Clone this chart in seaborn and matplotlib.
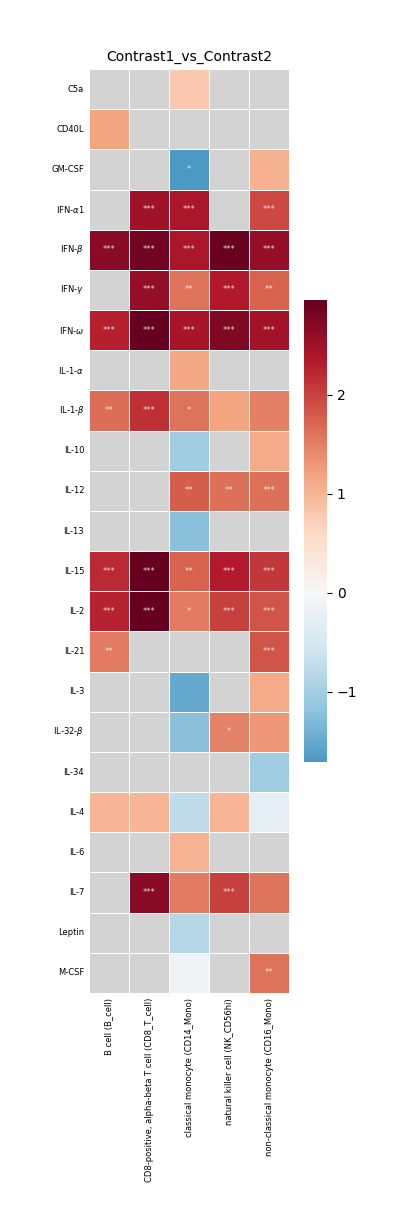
import numpy as np
import pandas as pd
import matplotlib
matplotlib.use("Agg")
import matplotlib.pyplot as plt
import seaborn as sns

cell_types = [
    "B cell (B_cell)",
    "CD8-positive, alpha-beta T cell (CD8_T_cell)",
    "classical monocyte (CD14_Mono)",
    "natural killer cell (NK_CD56hi)",
    "non-classical monocyte (CD16_Mono)",
]
cytokines = [
    "C5a", "CD40L", "GM-CSF", r"IFN-$\alpha$1", r"IFN-$\beta$", r"IFN-$\gamma$",
    r"IFN-$\omega$", r"IL-1-$\alpha$", r"IL-1-$\beta$", "IL-10", "IL-12", "IL-13",
    "IL-15", "IL-2", "IL-21", "IL-3", r"IL-32-$\beta$", "IL-34", "IL-4", "IL-6",
    "IL-7", "Leptin", "M-CSF",
]

nan = np.nan
# log fold changes, one list per cell type (NaN = not tested)
lfc_b_cell = [nan, 1.18, nan, nan, 2.65, nan, 2.30, nan, 1.65, nan, nan, nan,
              2.20, 2.28, 1.52, nan, nan, nan, 1.00, nan, nan, nan, nan]
lfc_cd8_t = [nan, nan, nan, 2.50, 2.85, 2.60, 2.93, nan, 2.15, nan, nan, nan,
             2.96, 2.96, nan, nan, nan, nan, 1.00, nan, 2.66, nan, nan]
lfc_cd14_mono = [0.80, nan, -1.71, 2.40, 2.40, 1.60, 2.42, 1.15, 1.60, -1.05, 1.78, -1.22,
                 1.75, 1.52, nan, -1.50, -1.22, nan, -0.75, 1.02, 1.52, -0.85, -0.12]
lfc_nk = [nan, nan, nan, nan, 2.92, 2.37, 2.75, nan, 1.18, nan, 1.62, nan,
          2.33, 2.02, nan, nan, 1.45, nan, 1.00, nan, 2.02, nan, nan]
lfc_cd16_mono = [nan, nan, 1.05, 1.95, 2.60, 1.75, 2.47, nan, 1.50, 1.12, 1.62, nan,
                 2.10, 1.85, 1.85, 1.13, 1.30, -1.05, -0.30, nan, 1.60, nan, 1.60]

# significance stars
sig_b_cell = ["", "", "", "", "***", "", "***", "", "**", "", "", "",
              "***", "***", "**", "", "", "", "", "", "", "", ""]
sig_cd8_t = ["", "", "", "***", "***", "***", "***", "", "***", "", "", "",
             "***", "***", "", "", "", "", "", "", "***", "", ""]
sig_cd14_mono = ["", "", "*", "***", "***", "**", "***", "", "*", "", "**", "",
                 "**", "*", "", "", "", "", "", "", "", "", ""]
sig_nk = ["", "", "", "", "***", "***", "***", "", "", "", "**", "",
          "***", "***", "", "", "*", "", "", "", "***", "", ""]
sig_cd16_mono = ["", "", "", "***", "***", "**", "***", "", "", "", "***", "",
                 "***", "***", "***", "", "", "", "", "", "", "", "**"]

df = pd.DataFrame(
    np.column_stack([lfc_b_cell, lfc_cd8_t, lfc_cd14_mono, lfc_nk, lfc_cd16_mono]),
    index=cytokines, columns=cell_types,
)
annot = np.column_stack([sig_b_cell, sig_cd8_t, sig_cd14_mono, sig_nk, sig_cd16_mono])

fig = plt.figure(figsize=(4.07, 12.32), dpi=100)
ax = fig.add_axes([89 / 407, 1 - 993 / 1232, 200 / 407, 924 / 1232])
cax = fig.add_axes([304 / 407, 1 - 762 / 1232, 23 / 407, 462 / 1232])
ax.set_facecolor("lightgray")

sns.heatmap(df, ax=ax, cbar_ax=cax, cmap="RdBu_r", center=0,
            annot=annot, fmt="", annot_kws={"color": "white", "fontsize": 6, "alpha": 0.8},
            linewidths=0.5, linecolor="white")

ax.set_title("Contrast1_vs_Contrast2", fontsize=10)
ax.tick_params(axis="both", length=0)
ax.set_yticklabels(ax.get_yticklabels(), fontsize=6, rotation=0)
ax.set_xticklabels(ax.get_xticklabels(), fontsize=6, rotation=90)
ax.set_xlabel("")
ax.set_ylabel("")
cax.tick_params(labelsize=10)
for s in cax.spines.values():
    s.set_visible(False)

fig.savefig("out.png", dpi=100)
